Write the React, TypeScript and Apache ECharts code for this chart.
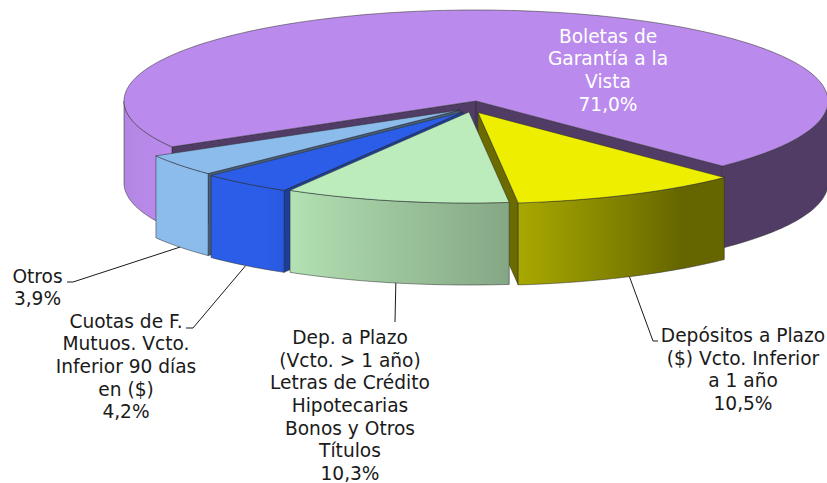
import React, { useEffect, useRef } from "react";
import * as echarts from "echarts";

// Data, in the pie's clockwise order
const categories = [
  "Depósitos a Plazo\n($) Vcto. Inferior\na 1 año",
  "Dep. a Plazo\n(Vcto. > 1 año)\nLetras de Crédito\nHipotecarias\nBonos y Otros\nTítulos",
  "Cuotas de F.\nMutuos. Vcto.\nInferior 90 días\nen ($)",
  "Otros",
  "Boletas de\nGarantía a la\nVista",
];
const values = [10.5, 10.3, 4.2, 3.9, 71.0];
const colors = ["#eeee00", "#bcecbc", "#2b5de8", "#8cbcec", "#ba8bec"];
const wallShades = [0.45, 0.5, 0.66, 0.5, 0.43];

// Layout of the projected pie
const CX = 476;
const CY = 101;
const RX = 352;
const RY = 91;
const DEPTH = 82;
const START_ANGLE = 45.6;
const EXPLODE: number[][] = [[2, 11.5], [-7, 11], [-13, 11], [-16, 9], [0, 0]];
const LABEL_POS: number[][] = [[743, 335.5], [350, 337.4], [126, 321], [37.5, 276], [608, 36]];
const LEADER_ENDS: number[][][] = [
  [[653, 341], [658, 341]],
  [[395, 322]],
  [[193, 328], [186, 328]],
  [[73, 282], [67, 282]],
  [],
];
const LABEL_COLORS = ["#1a1a1a", "#1a1a1a", "#1a1a1a", "#1a1a1a", "#ffffff"];
const FONT = '18.6px "DejaVu Sans"';
const LINE_H = 22.7;
const SHADE: number[][] = [[0, 0.43], [55, 0.43], [84, 0.71], [120, 0.95], [124, 1], [150, 1], [180, 0.95]];

const rad = (d: number) => (d * Math.PI) / 180;
const shadeAt = (deg: number) => {
  for (let i = 1; i < SHADE.length; i++) {
    if (deg <= SHADE[i][0]) {
      const [a0, s0] = SHADE[i - 1];
      const [a1, s1] = SHADE[i];
      return s0 + ((s1 - s0) * (deg - a0)) / (a1 - a0);
    }
  }
  return 1;
};
const scaled = (hex: string, k: number) => {
  const n = parseInt(hex.slice(1), 16);
  const c = [(n >> 16) & 255, (n >> 8) & 255, n & 255].map((v) => Math.round(v * k));
  return `rgb(${c[0]},${c[1]},${c[2]})`;
};
const EDGE = { stroke: "rgba(45,45,45,0.65)", lineWidth: 0.8 };

function sliceRange(index: number) {
  const sum = values.reduce((s, v) => s + v, 0);
  let a = START_ANGLE;
  for (let i = 0; i < index; i++) a += (values[i] / sum) * 360;
  return [a, a + (values[index] / sum) * 360];
}

// slices further from the viewer's axis are painted first
const drawOrder = values
  .map((_, i) => i)
  .sort((p, q) => {
    const d = (i: number) => {
      const r = sliceRange(i);
      const m = ((r[0] + r[1]) / 2) % 360;
      const x = Math.abs(m - 90);
      return Math.min(x, 360 - x);
    };
    return d(q) - d(p);
  });

function renderSlice(_params: any, api: any) {
  const i = api.value(0) as number;
  const [a, b] = sliceRange(i);
  const [ox, oy] = EXPLODE[i];
  const color = colors[i];
  const pt = (deg: number, dz = 0) => [
    CX + ox + RX * Math.cos(rad(deg)),
    CY + oy + RY * Math.sin(rad(deg)) + dz,
  ];
  const arc = (from: number, to: number, dz = 0) => {
    const out: number[][] = [];
    const n = Math.max(2, Math.ceil(Math.abs(to - from)));
    for (let k = 0; k <= n; k++) out.push(pt(from + ((to - from) * k) / n, dz));
    return out;
  };
  const children: any[] = [];
  const wall = (deg: number) =>
    children.push({
      type: "polygon",
      shape: { points: [[CX + ox, CY + oy], pt(deg), pt(deg, DEPTH), [CX + ox, CY + oy + DEPTH]] },
      style: { fill: scaled(color, wallShades[i]), ...EDGE },
    });
  if (Math.cos(rad(a)) < 0) wall(a);
  if (Math.cos(rad(b)) > 0) wall(b);

  for (const k of [0, 1]) {
    const lo = Math.max(a, 360 * k);
    const hi = Math.min(b, 360 * k + 180);
    if (hi <= lo) continue;
    const stops: any[] = [];
    const xa = Math.cos(rad(hi));
    const xb = Math.cos(rad(lo));
    const N = 8;
    for (let s = 0; s <= N; s++) {
      const d = hi + ((lo - hi) * s) / N;
      stops.push({
        offset: (Math.cos(rad(d)) - xa) / (xb - xa),
        color: scaled(color, shadeAt(d - 360 * k)),
      });
    }
    children.push({
      type: "polygon",
      shape: { points: [...arc(lo, hi), ...arc(hi, lo, DEPTH)] },
      style: { fill: new echarts.graphic.LinearGradient(0, 0, 1, 0, stops), ...EDGE },
    });
  }

  children.push({
    type: "polygon",
    shape: { points: [[CX + ox, CY + oy], ...arc(a, b)] },
    style: { fill: color, ...EDGE },
  });

  const ends = LEADER_ENDS[i];
  if (ends.length) {
    children.push({
      type: "polyline",
      shape: { points: [pt((a + b) / 2, DEPTH), ...ends] },
      style: { fill: null, stroke: "#1a1a1a", lineWidth: 1 },
    });
  }
  const pct = values[i].toFixed(1).replace(".", ",") + "%";
  (categories[i] + "\n" + pct).split("\n").forEach((line, n) => {
    children.push({
      type: "text",
      x: LABEL_POS[i][0],
      y: LABEL_POS[i][1] + n * LINE_H,
      style: {
        text: line,
        font: FONT,
        fill: LABEL_COLORS[i],
        align: "center",
        verticalAlign: "middle",
      },
    });
  });
  return { type: "group", children };
}

export default function App() {
  const ref = useRef<HTMLDivElement>(null);
  useEffect(() => {
    document.body.style.margin = "0";
    const chart = echarts.init(ref.current!, null, { renderer: "svg" });
    chart.setOption({
      animation: false,
      backgroundColor: "#ffffff",
      series: [
        {
          type: "custom",
          coordinateSystem: "none",
          silent: true,
          clip: false,
          renderItem: renderSlice,
          data: drawOrder.map((i) => [i, values[i]]),
          encode: { value: 1 },
        },
      ],
    });
    return () => chart.dispose();
  }, []);
  return <div ref={ref} style={{ width: 827, height: 483 }} />;
}
